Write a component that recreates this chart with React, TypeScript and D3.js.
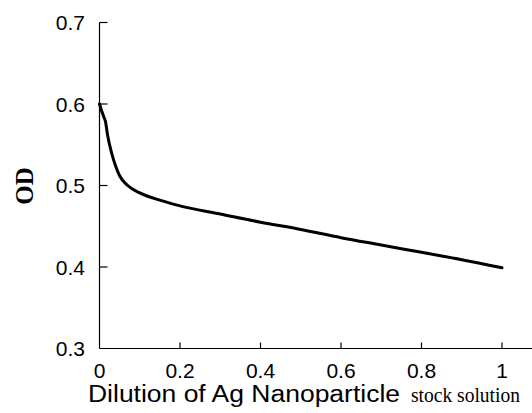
import React from "react";
import * as d3 from "d3";

const xValues = [0, 0.005, 0.01, 0.015, 0.02, 0.03, 0.04, 0.05, 0.07, 0.1, 0.15, 0.2, 0.3, 0.4, 0.5, 0.6, 0.7, 0.8, 0.9, 1.0];
const odValues = [0.6, 0.592, 0.585, 0.578, 0.562, 0.54, 0.524, 0.512, 0.5, 0.491, 0.482, 0.475, 0.465, 0.455, 0.446, 0.436, 0.427, 0.418, 0.409, 0.399];
const xTicks = [0, 0.2, 0.4, 0.6, 0.8, 1];
const xTickLabels = ["0", "0.2", "0.4", "0.6", "0.8", "1"];
const yTicks = [0.3, 0.4, 0.5, 0.6, 0.7];
const yTickLabels = ["0.3", "0.4", "0.5", "0.6", "0.7"];

export default function App() {
  const W = 532, H = 413;
  const x = d3.scaleLinear().domain([0, 1]).range([99.5, 502]);
  const y = d3.scaleLinear().domain([0.3, 0.7]).range([348.5, 22.5]);
  const data = xValues.map((v, i) => [v, odValues[i]] as [number, number]);
  const line = d3.line<[number, number]>().x(d => x(d[0])).y(d => y(d[1])).curve(d3.curveMonotoneX);
  const sans = "'Liberation Sans', Arial, sans-serif";
  const serif = "'Liberation Serif', 'Times New Roman', serif";
  return (
    <svg width={W} height={H} style={{ position: "absolute", left: 0, top: 0, background: "#fff" }}>
      <rect width={W} height={H} fill="#fff" />
      <line x1={x(0)} x2={W} y1={y(0.3)} y2={y(0.3)} stroke="#000" strokeWidth={1.2} />
      <line x1={x(0)} x2={x(0)} y1={y(0.7)} y2={y(0.3)} stroke="#000" strokeWidth={1.2} />
      {yTicks.filter(t => t > 0.3).map(t => (
        <line key={t} x1={x(0)} x2={x(0) + 8} y1={y(t)} y2={y(t)} stroke="#000" strokeWidth={1.2} />
      ))}
      {xTicks.filter(t => t > 0).map(t => (
        <line key={t} x1={x(t)} x2={x(t)} y1={y(0.3)} y2={y(0.3) - 6} stroke="#000" strokeWidth={1.2} />
      ))}
      {yTicks.map((t, i) => (
        <text key={t} x={85} y={y(t)} dy="0.36em" textAnchor="end" fontFamily={sans} fontSize={21}>{yTickLabels[i]}</text>
      ))}
      {xTicks.map((t, i) => (
        <text key={t} x={x(t)} y={378} textAnchor="middle" fontFamily={sans} fontSize={21}>{xTickLabels[i]}</text>
      ))}
      <text x={88} y={402} fontFamily={sans} fontSize={23.5} textLength={312} lengthAdjust="spacingAndGlyphs">Dilution of Ag Nanoparticle</text>
      <text x={411} y={402} fontFamily={serif} fontSize={21} textLength={109} lengthAdjust="spacingAndGlyphs">stock solution</text>
      <text transform="translate(33,186) rotate(-90)" textAnchor="middle" fontFamily={serif} fontWeight="bold" fontSize={25}>OD</text>
      <path d={line(data) || ""} fill="none" stroke="#000" strokeWidth={3} strokeLinejoin="round" strokeLinecap="round" />
    </svg>
  );
}
